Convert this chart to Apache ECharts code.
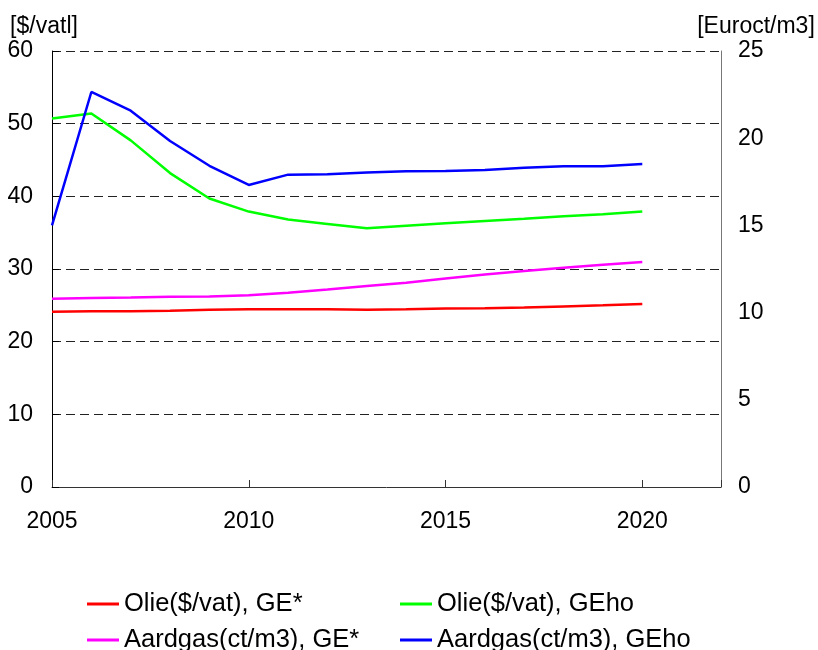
<!DOCTYPE html>
<html>
<head>
<meta charset="utf-8">
<script src="https://cdn.jsdelivr.net/npm/echarts@6/dist/echarts.min.js"></script>
<style>html,body{margin:0;padding:0;background:#fff}#c{width:818px;height:650px}</style>
</head>
<body>
<div id="c"></div>
<script>
var years = [2005,2006,2007,2008,2009,2010,2011,2012,2013,2014,2015,2016,2017,2018,2019,2020];
var olieGE = [24.1,24.2,24.2,24.25,24.4,24.45,24.45,24.45,24.4,24.45,24.55,24.6,24.7,24.85,25.0,25.2];
var olieGEho = [50.7,51.4,47.7,43.2,39.7,37.9,36.8,36.2,35.6,35.95,36.3,36.6,36.9,37.25,37.55,37.9];
var gasGE = [10.8,10.84,10.86,10.91,10.93,11.0,11.14,11.33,11.53,11.71,11.95,12.18,12.38,12.57,12.75,12.9];
var gasGEho = [15.0,22.65,21.58,19.84,18.42,17.32,17.91,17.93,18.04,18.1,18.12,18.18,18.31,18.39,18.39,18.52];
var leftTicks = {min:0, max:60, interval:10};
var rightTicks = {min:0, max:25, interval:5};
var xTicks = {min:2005, max:2022, interval:5};
var names = ['Olie($/vat), GE*','Olie($/vat), GEho','Aardgas(ct/m3), GE*','Aardgas(ct/m3), GEho'];

function pairs(v){ return years.map(function(y,i){ return [y, v[i]]; }); }
var FONT = 'Liberation Sans, Arial, sans-serif';
var AX = 23;
var chart = echarts.init(document.getElementById('c'), null, {renderer:'canvas'});
function mk(name, data, color, yIdx){
  return {name:name, type:'line', data:pairs(data), yAxisIndex:yIdx, showSymbol:false, symbol:'none',
    lineStyle:{color:color, width:2.5}, itemStyle:{color:color}, animation:false, z:3};
}
function legend(left, data){
  return {orient:'vertical', left:left, top:591, width:330, height:70, padding:0, data:data,
    itemWidth:32, itemHeight:3, icon:'rect', itemGap:10,
    textStyle:{fontFamily:FONT, fontSize:25.5, color:'#000', lineHeight:24}, itemTextGap:10};
}
chart.setOption({
  animation:false,
  backgroundColor:'#fff',
  grid:{left:52, right:97, top:51, bottom:163, containLabel:false},
  legend:[ legend(87, [names[0], names[2]]), legend(400, [names[1], names[3]]) ],
  xAxis:{type:'value', min:xTicks.min, max:xTicks.max, interval:xTicks.interval,
    axisLine:{lineStyle:{color:'#333', width:1}},
    axisTick:{inside:true, length:7, lineStyle:{color:'#333'}},
    axisLabel:{margin:23, fontFamily:FONT, fontSize:AX, color:'#000',
      formatter:function(v){ return (v - xTicks.min) % xTicks.interval === 0 ? String(v) : ''; }},
    splitLine:{show:false}},
  yAxis:[
    {type:'value', min:leftTicks.min, max:leftTicks.max, interval:leftTicks.interval, position:'left',
      name:'[$/vatl]', nameLocation:'end', nameGap:13,
      nameTextStyle:{fontFamily:FONT, fontSize:AX, color:'#000', padding:[0,16,0,0]},
      axisLine:{show:true, lineStyle:{color:'#000', width:1}},
      axisTick:{show:true, inside:true, length:7, lineStyle:{color:'#000'}},
      axisLabel:{margin:19, fontFamily:FONT, fontSize:AX, color:'#000'},
      splitLine:{show:true, lineStyle:{color:'#222', type:[9,5], width:1}}},
    {type:'value', min:rightTicks.min, max:rightTicks.max, interval:rightTicks.interval, position:'right',
      name:'[Euroct/m3]', nameLocation:'end', nameGap:13,
      nameTextStyle:{fontFamily:FONT, fontSize:AX, color:'#000', padding:[0,0,0,70]},
      axisLine:{show:true, lineStyle:{color:'#777', width:1}},
      axisTick:{show:false},
      axisLabel:{margin:17, fontFamily:FONT, fontSize:AX, color:'#000'},
      splitLine:{show:false}}
  ],
  series:[
    mk(names[0], olieGE, '#FF0000', 0),
    mk(names[1], olieGEho, '#00FF00', 0),
    mk(names[2], gasGE, '#FF00FF', 1),
    mk(names[3], gasGEho, '#0000FF', 1)
  ]
});
</script>
</body>
</html>
